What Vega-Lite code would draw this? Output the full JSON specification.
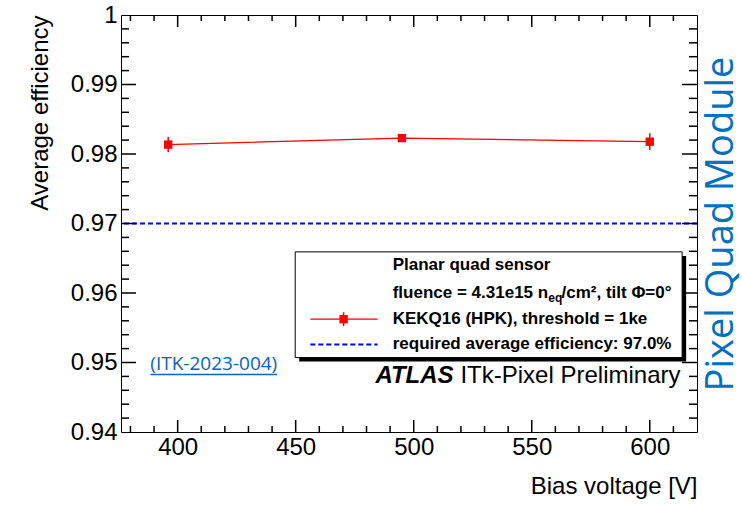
{
  "$schema": "https://vega.github.io/schema/vega-lite/v6.json",
  "width": 576,
  "height": 417,
  "autosize": {"type": "none"},
  "padding": {"left": 121, "top": 15, "right": 45, "bottom": 74},
  "background": "white",
  "config": {
    "view": {"stroke": "#000", "strokeWidth": 1},
    "axis": {
      "grid": false, "domain": false, "ticks": false, "tickSize": 0,
      "labelFlush": false, "labelOverlap": false, "labelBound": false,
      "labelColor": "#000", "titleColor": "#000",
      "labelFont": "Liberation Sans", "titleFont": "Liberation Sans", "titleFontWeight": "normal"
    }
  },
  "datasets": {
    "points": [
      {"voltage": 396, "eff": 0.98135, "lo": 0.98025, "hi": 0.98245},
      {"voltage": 495, "eff": 0.98229, "lo": 0.98179, "hi": 0.98279},
      {"voltage": 600, "eff": 0.98177, "lo": 0.98057, "hi": 0.98297}
    ],
    "threshold": [{"eff": 0.97}],
    "xMajor": [{"v": 400}, {"v": 450}, {"v": 500}, {"v": 550}, {"v": 600}],
    "xMinor": [{"v": 380}, {"v": 390}, {"v": 410}, {"v": 420}, {"v": 430}, {"v": 440}, {"v": 460}, {"v": 470}, {"v": 480}, {"v": 490}, {"v": 510}, {"v": 520}, {"v": 530}, {"v": 540}, {"v": 560}, {"v": 570}, {"v": 580}, {"v": 590}, {"v": 610}],
    "yMajor": [{"v": 0.95}, {"v": 0.96}, {"v": 0.97}, {"v": 0.98}, {"v": 0.99}],
    "yMinor": [{"v": 0.942}, {"v": 0.944}, {"v": 0.946}, {"v": 0.948}, {"v": 0.952}, {"v": 0.954}, {"v": 0.956}, {"v": 0.958}, {"v": 0.962}, {"v": 0.964}, {"v": 0.966}, {"v": 0.968}, {"v": 0.972}, {"v": 0.974}, {"v": 0.976}, {"v": 0.978}, {"v": 0.982}, {"v": 0.984}, {"v": 0.986}, {"v": 0.988}, {"v": 0.992}, {"v": 0.994}, {"v": 0.996}, {"v": 0.998}],
    "shadow": [{"x1": 451.5, "x2": 615.4, "y1": 0.96534, "y2": 0.95014}],
    "box": [{"x1": 449.8, "x2": 613.7, "y1": 0.96592, "y2": 0.95071}],
    "legRed": [{"x1": 456.2, "x2": 484.7, "y": 0.95623, "xm": 470.3, "lo": 0.95523, "hi": 0.95723}],
    "legBlue": [{"x1": 456.2, "x2": 484.7, "y": 0.95259}],
    "legText": [
      {"label": "Planar quad sensor", "x": 491.1, "y": 0.96396},
      {"label": "fluence = 4.31e15 n", "x": 491.1, "y": 0.96007},
      {"label": "/cm², tilt Φ=0°", "x": 562.6, "y": 0.96007},
      {"label": "KEKQ16 (HPK), threshold = 1ke", "x": 491.1, "y": 0.95623},
      {"label": "required average efficiency: 97.0%", "x": 491.1, "y": 0.95259}
    ],
    "legSub": [{"label": "eq", "x": 557.0, "y": 0.96007}],
    "atlas": [{"label": "ATLAS", "x": 516.9, "y": 0.94706}],
    "prelim": [{"label": "ITk-Pixel Preliminary", "x": 613.0, "y": 0.94706}],
    "link": [{"label": "(ITK-2023-004)", "x": 415.3, "y": 0.94888}],
    "underline": [{"x1": 388.5, "x2": 442.1, "y": 0.94827}]
  },
  "layer": [
    {
      "data": {"name": "threshold"},
      "mark": {"type": "rule", "color": "#0000ff", "strokeWidth": 2, "strokeDash": [5, 3]},
      "encoding": {
        "y": {"field": "eff", "type": "quantitative", "scale": {"domain": [0.94, 1], "nice": false, "zero": false}, "axis": null}
      }
    },
    {
      "data": {"name": "yMajor"},
      "mark": {"type": "rule", "color": "#000", "strokeWidth": 1.5},
      "encoding": {
        "x": {"datum": 376, "type": "quantitative", "scale": {"domain": [376, 620], "nice": false, "zero": false}, "axis": null},
        "x2": {"datum": 382.35},
        "y": {"field": "v", "type": "quantitative", "scale": {"domain": [0.94, 1], "nice": false, "zero": false}, "axis": null}
      }
    },
    {
      "data": {"name": "yMinor"},
      "mark": {"type": "rule", "color": "#000", "strokeWidth": 1.5},
      "encoding": {
        "x": {"datum": 376, "type": "quantitative", "scale": {"domain": [376, 620], "nice": false, "zero": false}, "axis": null},
        "x2": {"datum": 379.39},
        "y": {"field": "v", "type": "quantitative", "scale": {"domain": [0.94, 1], "nice": false, "zero": false}, "axis": null}
      }
    },
    {
      "data": {"name": "yMajor"},
      "mark": {"type": "rule", "color": "#000", "strokeWidth": 1.5},
      "encoding": {
        "x": {"datum": 613.65, "type": "quantitative", "scale": {"domain": [376, 620], "nice": false, "zero": false}, "axis": null},
        "x2": {"datum": 620},
        "y": {"field": "v", "type": "quantitative", "scale": {"domain": [0.94, 1], "nice": false, "zero": false}, "axis": null}
      }
    },
    {
      "data": {"name": "yMinor"},
      "mark": {"type": "rule", "color": "#000", "strokeWidth": 1.5},
      "encoding": {
        "x": {"datum": 616.61, "type": "quantitative", "scale": {"domain": [376, 620], "nice": false, "zero": false}, "axis": null},
        "x2": {"datum": 620},
        "y": {"field": "v", "type": "quantitative", "scale": {"domain": [0.94, 1], "nice": false, "zero": false}, "axis": null}
      }
    },
    {
      "data": {"name": "xMajor"},
      "mark": {"type": "rule", "color": "#000", "strokeWidth": 1.5},
      "encoding": {
        "x": {"field": "v", "type": "quantitative", "scale": {"domain": [376, 620], "nice": false, "zero": false}, "axis": null},
        "y": {"datum": 0.94, "type": "quantitative", "scale": {"domain": [0.94, 1], "nice": false, "zero": false}, "axis": null},
        "y2": {"datum": 0.94173}
      }
    },
    {
      "data": {"name": "xMinor"},
      "mark": {"type": "rule", "color": "#000", "strokeWidth": 1.5},
      "encoding": {
        "x": {"field": "v", "type": "quantitative", "scale": {"domain": [376, 620], "nice": false, "zero": false}, "axis": null},
        "y": {"datum": 0.94, "type": "quantitative", "scale": {"domain": [0.94, 1], "nice": false, "zero": false}, "axis": null},
        "y2": {"datum": 0.94086}
      }
    },
    {
      "data": {"name": "xMajor"},
      "mark": {"type": "rule", "color": "#000", "strokeWidth": 1.5},
      "encoding": {
        "x": {"field": "v", "type": "quantitative", "scale": {"domain": [376, 620], "nice": false, "zero": false}, "axis": null},
        "y": {"datum": 0.99827, "type": "quantitative", "scale": {"domain": [0.94, 1], "nice": false, "zero": false}, "axis": null},
        "y2": {"datum": 1}
      }
    },
    {
      "data": {"name": "xMinor"},
      "mark": {"type": "rule", "color": "#000", "strokeWidth": 1.5},
      "encoding": {
        "x": {"field": "v", "type": "quantitative", "scale": {"domain": [376, 620], "nice": false, "zero": false}, "axis": null},
        "y": {"datum": 0.99914, "type": "quantitative", "scale": {"domain": [0.94, 1], "nice": false, "zero": false}, "axis": null},
        "y2": {"datum": 1}
      }
    },
    {
      "data": {"name": "shadow"},
      "mark": {"type": "rect", "fill": "#000"},
      "encoding": {
        "x": {"field": "x1", "type": "quantitative", "scale": {"domain": [376, 620], "nice": false, "zero": false}, "axis": null},
        "x2": {"field": "x2"},
        "y": {"field": "y1", "type": "quantitative", "scale": {"domain": [0.94, 1], "nice": false, "zero": false}, "axis": null},
        "y2": {"field": "y2"}
      }
    },
    {
      "data": {"name": "box"},
      "mark": {"type": "rect", "fill": "#fff", "stroke": "#000", "strokeWidth": 1},
      "encoding": {
        "x": {"field": "x1", "type": "quantitative", "scale": {"domain": [376, 620], "nice": false, "zero": false}, "axis": null},
        "x2": {"field": "x2"},
        "y": {"field": "y1", "type": "quantitative", "scale": {"domain": [0.94, 1], "nice": false, "zero": false}, "axis": null},
        "y2": {"field": "y2"}
      }
    },
    {
      "data": {"name": "legRed"},
      "mark": {"type": "rule", "color": "#ff0000", "strokeWidth": 1.2},
      "encoding": {
        "x": {"field": "x1", "type": "quantitative", "scale": {"domain": [376, 620], "nice": false, "zero": false}, "axis": null},
        "x2": {"field": "x2"},
        "y": {"field": "y", "type": "quantitative", "scale": {"domain": [0.94, 1], "nice": false, "zero": false}, "axis": null}
      }
    },
    {
      "data": {"name": "legRed"},
      "mark": {"type": "rule", "color": "#ff0000", "strokeWidth": 1.5},
      "encoding": {
        "x": {"field": "xm", "type": "quantitative", "scale": {"domain": [376, 620], "nice": false, "zero": false}, "axis": null},
        "y": {"field": "lo", "type": "quantitative", "scale": {"domain": [0.94, 1], "nice": false, "zero": false}, "axis": null},
        "y2": {"field": "hi"}
      }
    },
    {
      "data": {"name": "legRed"},
      "mark": {"type": "point", "shape": "square", "filled": true, "color": "#ff0000", "opacity": 1, "size": 70},
      "encoding": {
        "x": {"field": "xm", "type": "quantitative", "scale": {"domain": [376, 620], "nice": false, "zero": false}, "axis": null},
        "y": {"field": "y", "type": "quantitative", "scale": {"domain": [0.94, 1], "nice": false, "zero": false}, "axis": null}
      }
    },
    {
      "data": {"name": "legBlue"},
      "mark": {"type": "rule", "color": "#0000ff", "strokeWidth": 2, "strokeDash": [5, 3]},
      "encoding": {
        "x": {"field": "x1", "type": "quantitative", "scale": {"domain": [376, 620], "nice": false, "zero": false}, "axis": null},
        "x2": {"field": "x2"},
        "y": {"field": "y", "type": "quantitative", "scale": {"domain": [0.94, 1], "nice": false, "zero": false}, "axis": null}
      }
    },
    {
      "data": {"name": "legText"},
      "mark": {"type": "text", "font": "Liberation Sans", "fontWeight": "bold", "fontSize": 17, "align": "left", "baseline": "middle", "color": "#000"},
      "encoding": {
        "x": {"field": "x", "type": "quantitative", "scale": {"domain": [376, 620], "nice": false, "zero": false}, "axis": null},
        "y": {"field": "y", "type": "quantitative", "scale": {"domain": [0.94, 1], "nice": false, "zero": false}, "axis": null},
        "text": {"field": "label"}
      }
    },
    {
      "data": {"name": "legSub"},
      "mark": {"type": "text", "font": "Liberation Sans", "fontWeight": "bold", "fontSize": 12, "align": "left", "baseline": "middle", "dy": 5, "color": "#000"},
      "encoding": {
        "x": {"field": "x", "type": "quantitative", "scale": {"domain": [376, 620], "nice": false, "zero": false}, "axis": null},
        "y": {"field": "y", "type": "quantitative", "scale": {"domain": [0.94, 1], "nice": false, "zero": false}, "axis": null},
        "text": {"field": "label"}
      }
    },
    {
      "data": {"name": "atlas"},
      "mark": {"type": "text", "font": "Liberation Sans", "fontWeight": "bold", "fontStyle": "italic", "fontSize": 24, "align": "right", "baseline": "alphabetic", "color": "#000"},
      "encoding": {
        "x": {"field": "x", "type": "quantitative", "scale": {"domain": [376, 620], "nice": false, "zero": false}, "axis": null},
        "y": {"field": "y", "type": "quantitative", "scale": {"domain": [0.94, 1], "nice": false, "zero": false}, "axis": null},
        "text": {"field": "label"}
      }
    },
    {
      "data": {"name": "prelim"},
      "mark": {"type": "text", "font": "Liberation Sans", "fontSize": 24, "align": "right", "baseline": "alphabetic", "color": "#000"},
      "encoding": {
        "x": {"field": "x", "type": "quantitative", "scale": {"domain": [376, 620], "nice": false, "zero": false}, "axis": null},
        "y": {"field": "y", "type": "quantitative", "scale": {"domain": [0.94, 1], "nice": false, "zero": false}, "axis": null},
        "text": {"field": "label"}
      }
    },
    {
      "data": {"name": "underline"},
      "mark": {"type": "rule", "color": "#0563C1", "strokeWidth": 1.3},
      "encoding": {
        "x": {"field": "x1", "type": "quantitative", "scale": {"domain": [376, 620], "nice": false, "zero": false}, "axis": null},
        "x2": {"field": "x2"},
        "y": {"field": "y", "type": "quantitative", "scale": {"domain": [0.94, 1], "nice": false, "zero": false}, "axis": null}
      }
    },
    {
      "data": {"name": "link"},
      "mark": {"type": "text", "font": "Open Sans", "fontSize": 19, "align": "center", "baseline": "alphabetic", "color": "#0563C1"},
      "encoding": {
        "x": {"field": "x", "type": "quantitative", "scale": {"domain": [376, 620], "nice": false, "zero": false}, "axis": null},
        "y": {"field": "y", "type": "quantitative", "scale": {"domain": [0.94, 1], "nice": false, "zero": false}, "axis": null},
        "text": {"field": "label"}
      }
    },
    {
      "data": {"name": "points"},
      "mark": {"type": "line", "color": "#ff0000", "strokeWidth": 1.2},
      "encoding": {
        "x": {"field": "voltage", "type": "quantitative", "scale": {"domain": [376, 620], "nice": false, "zero": false},
          "axis": {"orient": "bottom", "values": [400, 450, 500, 550, 600], "labelPadding": 3, "labelFontSize": 24, "format": "d",
            "title": "Bias voltage [V]", "titleFontSize": 24, "titleAnchor": "end", "titlePadding": 15}},
        "y": {"field": "eff", "type": "quantitative", "scale": {"domain": [0.94, 1], "nice": false, "zero": false},
          "axis": {"orient": "left", "values": [0.94, 0.95, 0.96, 0.97, 0.98, 0.99, 1], "labelPadding": 4, "labelFontSize": 24, "format": ".2~f",
            "title": "Average efficiency", "titleFontSize": 24, "titleAnchor": "end", "titlePadding": 18}}
      }
    },
    {
      "data": {"name": "points"},
      "mark": {"type": "rule", "color": "#ff0000", "strokeWidth": 1.5},
      "encoding": {
        "x": {"field": "voltage", "type": "quantitative", "scale": {"domain": [376, 620], "nice": false, "zero": false}, "axis": null},
        "y": {"field": "lo", "type": "quantitative", "scale": {"domain": [0.94, 1], "nice": false, "zero": false},
          "axis": {"orient": "right", "labels": false,
            "title": "Pixel Quad Module", "titleFont": "Open Sans", "titleFontSize": 38, "titleColor": "#0070C0", "titleAngle": 270, "titleBaseline": "top", "titlePadding": 5}},
        "y2": {"field": "hi"}
      }
    },
    {
      "data": {"name": "points"},
      "mark": {"type": "point", "shape": "square", "filled": true, "color": "#ff0000", "opacity": 1, "size": 70},
      "encoding": {
        "x": {"field": "voltage", "type": "quantitative", "scale": {"domain": [376, 620], "nice": false, "zero": false}, "axis": null},
        "y": {"field": "eff", "type": "quantitative", "scale": {"domain": [0.94, 1], "nice": false, "zero": false}, "axis": null}
      }
    }
  ],
  "resolve": {"axis": {"x": "independent", "y": "independent"}}
}
